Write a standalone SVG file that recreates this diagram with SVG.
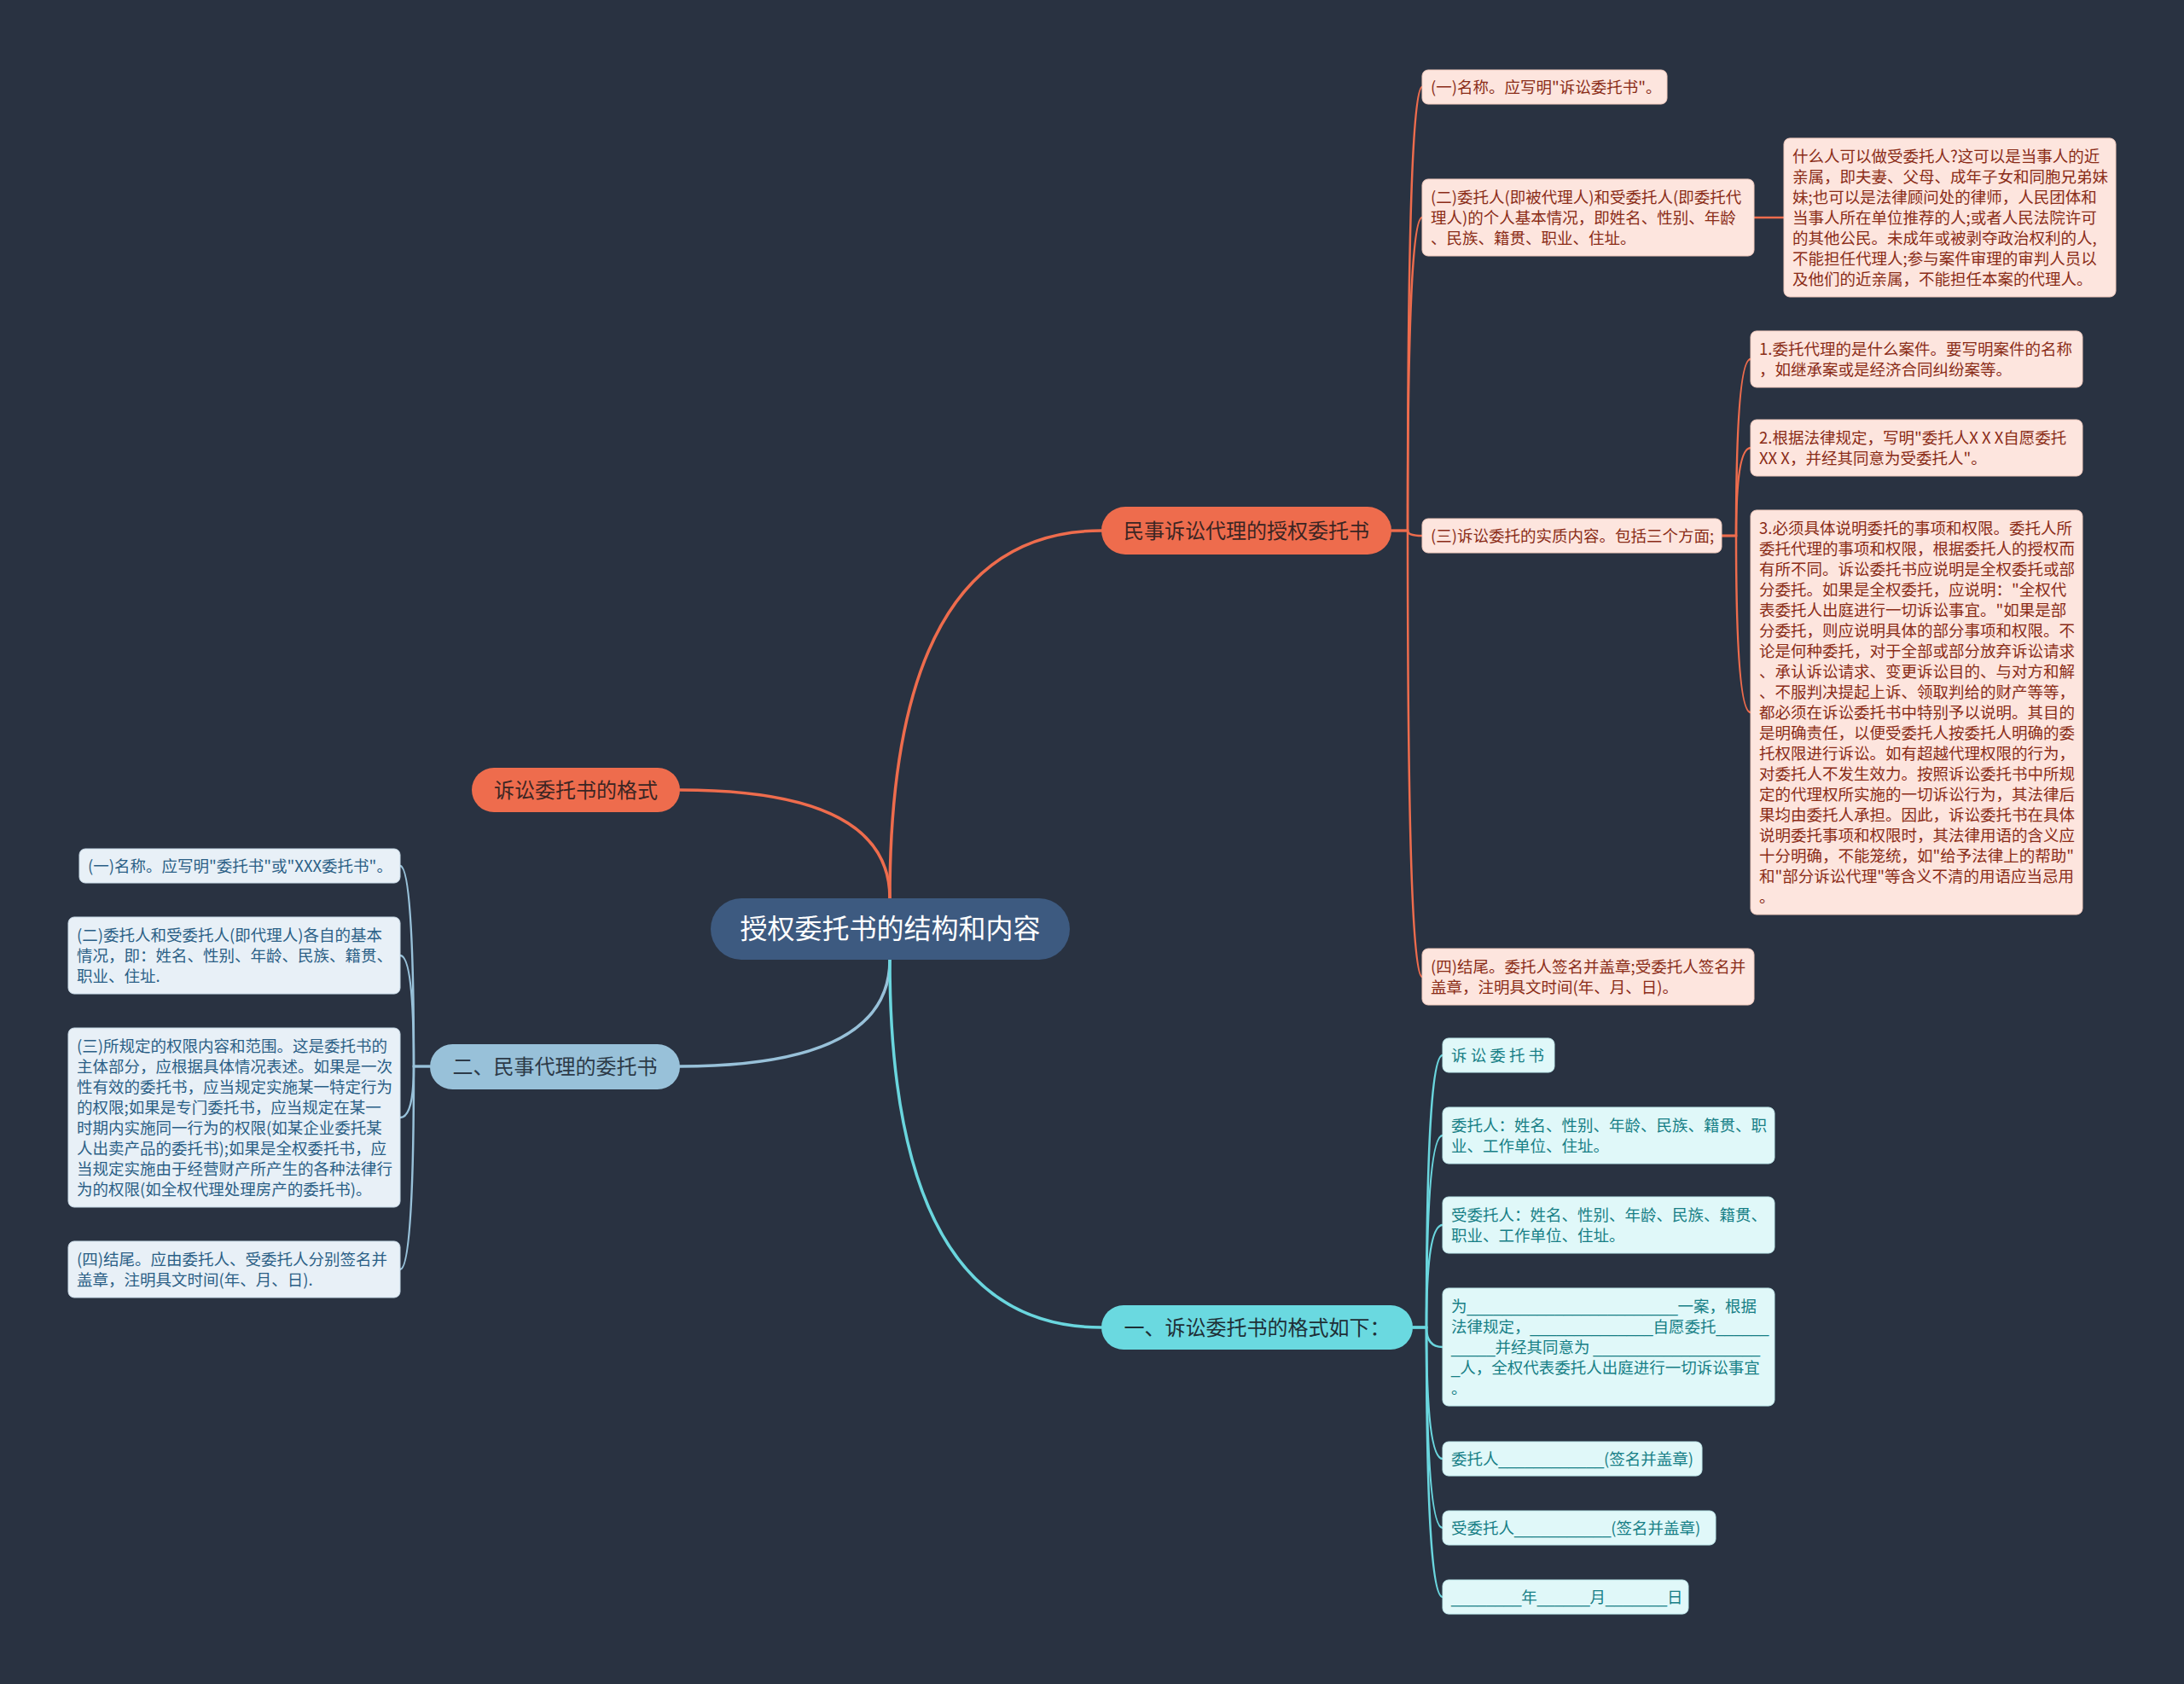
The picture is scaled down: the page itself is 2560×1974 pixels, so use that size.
<svg xmlns="http://www.w3.org/2000/svg" width="2560" height="1974" viewBox="0 0 2560 1974">
<style>
text{font-family:"Noto Sans CJK SC","Noto Sans",sans-serif;}
.c{fill:none;stroke-linecap:round;}
.co{stroke:#ee6c4d;}
.bl{stroke:#98c1d9;}
.cy{stroke:#6ad6de;}
.main{stroke-width:3.5;}
.sub{stroke-width:2.5;}
.pk rect{fill:#fde5de;stroke:#f2cbbf;stroke-width:1;}
.pk text{fill:#8a2c17;font-size:18.5px;}
.lb rect{fill:#e8f0f7;stroke:#c9dbe8;stroke-width:1;}
.lb text{fill:#2b5f86;font-size:18.5px;}
.cn rect{fill:#e0f8f9;stroke:#bfe9ec;stroke-width:1;}
.cn text{fill:#177f86;font-size:18.5px;}
.u{font-family:"Liberation Sans",sans-serif;}
.br text{font-size:24px;text-anchor:middle;}
</style>
<rect width="2560" height="1974" fill="#293241"/>

<g id="connectors">
  <path class="c co main" d="M1043,1053 Q1043,622 1291,622"/>
  <path class="c co main" d="M1043,1053 Q1043,926 797,926"/>
  <path class="c bl main" d="M1043,1125 Q1043,1250 797,1250"/>
  <path class="c cy main" d="M1043,1125 Q1043,1556 1291,1556"/>

  <path class="c co sub" d="M1631,622 H1650 Q1650,102 1667,102"/>
  <path class="c co sub" d="M1631,622 H1650 Q1650,255 1667,255"/>
  <path class="c co sub" d="M1631,622 H1650 Q1650,628 1667,628"/>
  <path class="c co sub" d="M1631,622 H1650 Q1650,1145 1667,1145"/>
  <path class="c co sub" d="M2056,255 H2091"/>
  <path class="c co sub" d="M2018,628 H2035 Q2035,421 2052,421"/>
  <path class="c co sub" d="M2018,628 H2035 Q2035,525 2052,525"/>
  <path class="c co sub" d="M2018,628 H2035 Q2035,835 2052,835"/>

  <path class="c bl sub" d="M504,1250 H485 Q485,1015 469,1015"/>
  <path class="c bl sub" d="M504,1250 H485 Q485,1120 469,1120"/>
  <path class="c bl sub" d="M504,1250 H485 Q485,1310 469,1310"/>
  <path class="c bl sub" d="M504,1250 H485 Q485,1488 469,1488"/>

  <path class="c cy sub" d="M1656,1556 H1672 Q1672,1237 1691,1237"/>
  <path class="c cy sub" d="M1656,1556 H1672 Q1672,1331 1691,1331"/>
  <path class="c cy sub" d="M1656,1556 H1672 Q1672,1436 1691,1436"/>
  <path class="c cy sub" d="M1656,1556 H1672 Q1672,1579 1691,1579"/>
  <path class="c cy sub" d="M1656,1556 H1672 Q1672,1710 1691,1710"/>
  <path class="c cy sub" d="M1656,1556 H1672 Q1672,1791 1691,1791"/>
  <path class="c cy sub" d="M1656,1556 H1672 Q1672,1872 1691,1872"/>
</g>

<g id="root">
  <rect x="833" y="1053" width="421" height="72" rx="36" fill="#3d5a80"/>
  <text x="1043.5" y="1100" font-size="32" fill="#ffffff" text-anchor="middle">授权委托书的结构和内容</text>
</g>

<g id="b-minshi" class="br">
  <rect x="1291" y="594" width="340" height="56" rx="28" fill="#ee6c4d"/>
  <text x="1461" y="630.5" fill="#3b2523">民事诉讼代理的授权委托书</text>
</g>
<g id="b-geshi" class="br">
  <rect x="553" y="900" width="244" height="52" rx="26" fill="#ee6c4d"/>
  <text x="675" y="934.5" fill="#3b2523">诉讼委托书的格式</text>
</g>
<g id="b-daili" class="br">
  <rect x="504" y="1224" width="293" height="53" rx="26.5" fill="#98c1d9"/>
  <text x="650.5" y="1259" fill="#2c3a48">二、民事代理的委托书</text>
</g>
<g id="b-susong" class="br">
  <rect x="1291" y="1530" width="365" height="52" rx="26" fill="#6ad9e0"/>
  <text x="1473.5" y="1564.5" fill="#1e2f36">一、诉讼委托书的格式如下：</text>
</g>

<g id="r1" class="pk">
  <rect x="1667" y="82" width="287" height="40" rx="7"/>
  <text x="1677" y="108.5">(一)名称。应写明"诉讼委托书"。</text>
</g>
<g id="r2" class="pk">
  <rect x="1667" y="210" width="389" height="90" rx="7"/>
  <text x="1677" y="237.5"><tspan x="1677">(二)委托人(即被代理人)和受委托人(即委托代</tspan><tspan x="1677" dy="24">理人)的个人基本情况，即姓名、性别、年龄</tspan><tspan x="1677" dy="24">、民族、籍贯、职业、住址。</tspan></text>
</g>
<g id="r2a" class="pk">
  <rect x="2091" y="162" width="389" height="186" rx="7"/>
  <text x="2101" y="189.5"><tspan x="2101">什么人可以做受委托人?这可以是当事人的近</tspan><tspan x="2101" dy="24">亲属，即夫妻、父母、成年子女和同胞兄弟妹</tspan><tspan x="2101" dy="24">妹;也可以是法律顾问处的律师，人民团体和</tspan><tspan x="2101" dy="24">当事人所在单位推荐的人;或者人民法院许可</tspan><tspan x="2101" dy="24">的其他公民。未成年或被剥夺政治权利的人,</tspan><tspan x="2101" dy="24">不能担任代理人;参与案件审理的审判人员以</tspan><tspan x="2101" dy="24">及他们的近亲属，不能担任本案的代理人。</tspan></text>
</g>
<g id="r3" class="pk">
  <rect x="1667" y="608" width="351" height="40" rx="7"/>
  <text x="1677" y="634.5">(三)诉讼委托的实质内容。包括三个方面;</text>
</g>
<g id="r3a" class="pk">
  <rect x="2052" y="388" width="389" height="66" rx="7"/>
  <text x="2062" y="415.5"><tspan x="2062">1.委托代理的是什么案件。要写明案件的名称</tspan><tspan x="2062" dy="24">，如继承案或是经济合同纠纷案等。</tspan></text>
</g>
<g id="r3b" class="pk">
  <rect x="2052" y="492" width="389" height="66" rx="7"/>
  <text x="2062" y="519.5"><tspan x="2062">2.根据法律规定，写明"委托人X X X自愿委托</tspan><tspan x="2062" dy="24">XX X，并经其同意为受委托人"。</tspan></text>
</g>
<g id="r3c" class="pk">
  <rect x="2052" y="598" width="389" height="474" rx="7"/>
  <text x="2062" y="625.5"><tspan x="2062">3.必须具体说明委托的事项和权限。委托人所</tspan><tspan x="2062" dy="24">委托代理的事项和权限，根据委托人的授权而</tspan><tspan x="2062" dy="24">有所不同。诉讼委托书应说明是全权委托或部</tspan><tspan x="2062" dy="24">分委托。如果是全权委托，应说明："全权代</tspan><tspan x="2062" dy="24">表委托人出庭进行一切诉讼事宜。"如果是部</tspan><tspan x="2062" dy="24">分委托，则应说明具体的部分事项和权限。不</tspan><tspan x="2062" dy="24">论是何种委托，对于全部或部分放弃诉讼请求</tspan><tspan x="2062" dy="24">、承认诉讼请求、变更诉讼目的、与对方和解</tspan><tspan x="2062" dy="24">、不服判决提起上诉、领取判给的财产等等，</tspan><tspan x="2062" dy="24">都必须在诉讼委托书中特别予以说明。其目的</tspan><tspan x="2062" dy="24">是明确责任，以便受委托人按委托人明确的委</tspan><tspan x="2062" dy="24">托权限进行诉讼。如有超越代理权限的行为，</tspan><tspan x="2062" dy="24">对委托人不发生效力。按照诉讼委托书中所规</tspan><tspan x="2062" dy="24">定的代理权所实施的一切诉讼行为，其法律后</tspan><tspan x="2062" dy="24">果均由委托人承担。因此，诉讼委托书在具体</tspan><tspan x="2062" dy="24">说明委托事项和权限时，其法律用语的含义应</tspan><tspan x="2062" dy="24">十分明确，不能笼统，如"给予法律上的帮助"</tspan><tspan x="2062" dy="24">和"部分诉讼代理"等含义不清的用语应当忌用</tspan><tspan x="2062" dy="24">。</tspan></text>
</g>
<g id="r4" class="pk">
  <rect x="1667" y="1112" width="389" height="66" rx="7"/>
  <text x="1677" y="1139.5"><tspan x="1677">(四)结尾。委托人签名并盖章;受委托人签名并</tspan><tspan x="1677" dy="24">盖章，注明具文时间(年、月、日)。</tspan></text>
</g>

<g id="l1" class="lb">
  <rect x="93" y="995" width="376" height="40" rx="7"/>
  <text x="103" y="1021.5">(一)名称。应写明"委托书"或"XXX委托书"。</text>
</g>
<g id="l2" class="lb">
  <rect x="80" y="1075" width="389" height="90" rx="7"/>
  <text x="90" y="1102.5"><tspan x="90">(二)委托人和受委托人(即代理人)各自的基本</tspan><tspan x="90" dy="24">情况，即：姓名、性别、年龄、民族、籍贯、</tspan><tspan x="90" dy="24">职业、住址.</tspan></text>
</g>
<g id="l3" class="lb">
  <rect x="80" y="1205" width="389" height="210" rx="7"/>
  <text x="90" y="1232.5"><tspan x="90">(三)所规定的权限内容和范围。这是委托书的</tspan><tspan x="90" dy="24">主体部分，应根据具体情况表述。如果是一次</tspan><tspan x="90" dy="24">性有效的委托书，应当规定实施某一特定行为</tspan><tspan x="90" dy="24">的权限;如果是专门委托书，应当规定在某一</tspan><tspan x="90" dy="24">时期内实施同一行为的权限(如某企业委托某</tspan><tspan x="90" dy="24">人出卖产品的委托书);如果是全权委托书，应</tspan><tspan x="90" dy="24">当规定实施由于经营财产所产生的各种法律行</tspan><tspan x="90" dy="24">为的权限(如全权代理处理房产的委托书)。</tspan></text>
</g>
<g id="l4" class="lb">
  <rect x="80" y="1455" width="389" height="66" rx="7"/>
  <text x="90" y="1482.5"><tspan x="90">(四)结尾。应由委托人、受委托人分别签名并</tspan><tspan x="90" dy="24">盖章，注明具文时间(年、月、日).</tspan></text>
</g>

<g id="c1" class="cn">
  <rect x="1691" y="1217" width="131" height="40" rx="7"/>
  <text x="1701" y="1243.5">诉 讼 委 托 书</text>
</g>
<g id="c2" class="cn">
  <rect x="1691" y="1298" width="389" height="66" rx="7"/>
  <text x="1701" y="1325.5"><tspan x="1701">委托人：姓名、性别、年龄、民族、籍贯、职</tspan><tspan x="1701" dy="24">业、工作单位、住址。</tspan></text>
</g>
<g id="c3" class="cn">
  <rect x="1691" y="1403" width="389" height="66" rx="7"/>
  <text x="1701" y="1430.5"><tspan x="1701">受委托人：姓名、性别、年龄、民族、籍贯、</tspan><tspan x="1701" dy="24">职业、工作单位、住址。</tspan></text>
</g>
<g id="c4" class="cn">
  <rect x="1691" y="1510" width="389" height="138" rx="7"/>
  <text x="1701" y="1537.5"><tspan x="1701">为<tspan class="u">________________________</tspan>一案，根据</tspan><tspan x="1701" dy="24">法律规定，<tspan class="u">______________</tspan>自愿委托<tspan class="u">______</tspan></tspan><tspan x="1701" dy="24"><tspan class="u">_____</tspan>并经其同意为 <tspan class="u">___________________</tspan></tspan><tspan x="1701" dy="24"><tspan class="u">_</tspan>人，全权代表委托人出庭进行一切诉讼事宜</tspan><tspan x="1701" dy="24">。</tspan></text>
</g>
<g id="c5" class="cn">
  <rect x="1691" y="1690" width="304" height="40" rx="7"/>
  <text x="1701" y="1716.5">委托人<tspan class="u">____________</tspan>(签名并盖章)</text>
</g>
<g id="c6" class="cn">
  <rect x="1691" y="1771" width="320" height="40" rx="7"/>
  <text x="1701" y="1797.5">受委托人<tspan class="u">___________</tspan>(签名并盖章)</text>
</g>
<g id="c7" class="cn">
  <rect x="1691" y="1852" width="288" height="40" rx="7"/>
  <text x="1701" y="1878.5"><tspan class="u">________</tspan>年<tspan class="u">______</tspan>月<tspan class="u">_______</tspan>日</text>
</g>
</svg>
